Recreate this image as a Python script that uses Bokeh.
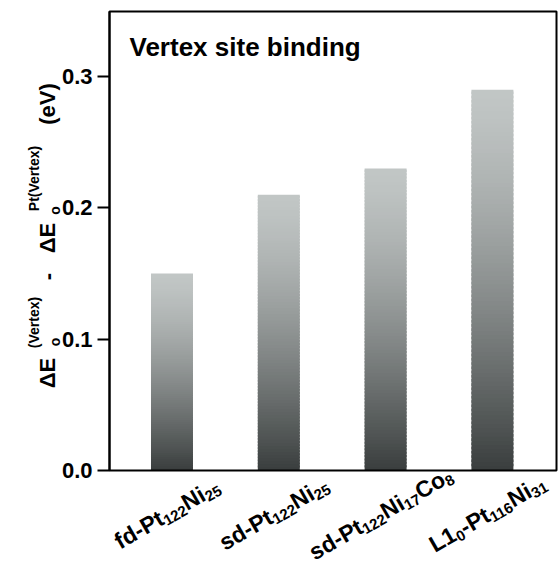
import math
import numpy as np
from bokeh.plotting import figure
from bokeh.models import (Label, Range1d, FixedTicker, NumeralTickFormatter, ColumnDataSource,
                          LinearAxis)
from bokeh.core.properties import value
from bokeh.embed import file_html
from bokeh.resources import INLINE

# ---------------- data ----------------
categories = ["fd-Pt122Ni25", "sd-Pt122Ni25", "sd-Pt122Ni17Co8", "L10-Pt116Ni31"]
# tick-label pieces: (text, 1 = subscript)
label_parts = [
    [("fd-Pt", 0), ("122", 1), ("Ni", 0), ("25", 1)],
    [("sd-Pt", 0), ("122", 1), ("Ni", 0), ("25", 1)],
    [("sd-Pt", 0), ("122", 1), ("Ni", 0), ("17", 1), ("Co", 0), ("8", 1)],
    [("L1", 0), ("0", 1), ("-Pt", 0), ("116", 1), ("Ni", 0), ("31", 1)],
]
values = [0.15, 0.21, 0.23, 0.29]
y_ticks = [0.0, 0.1, 0.2, 0.3]
title_text = "Vertex site binding"

# ---------------- layout (screen pixels of the plot box) ----------------
W, H = 559, 561
FL, FR, FT, FB = 109, 556, 11, 470
X0, X1 = 0.415, 4.6        # data extent of the plot box
Y0, Y1 = 0.0, 0.3496
FONT = "Liberation Sans"

kx = (FR - FL) / (X1 - X0)
ky = (FB - FT) / (Y1 - Y0)
XA, XB = X0 - FL / kx, X1 + (W - FR) / kx
YA, YB = Y0 - (H - FB) / ky, Y1 + FT / ky

def sx_of(x):
    return (x - XA) * kx

p = figure(width=W, height=H, output_backend="svg", toolbar_location=None,
           x_range=Range1d(0, W), y_range=Range1d(0, H),
           x_axis_location=None, y_axis_location=None, min_border=0)
p.extra_x_ranges = {"data": Range1d(XA, XB)}
p.extra_y_ranges = {"data": Range1d(YA, YB)}
p.outline_line_color = None
for g in p.grid:
    g.grid_line_color = None

# ---------------- gradient bars ----------------
xs = np.arange(1, len(categories) + 1)
bar_w = 0.393
N = 90
light = np.array([193, 198, 197])
dark = np.array([58, 62, 62])
lefts, rights, bottoms, tops, colors = [], [], [], [], []
for xc, v in zip(xs, values):
    for i in range(N):
        t = 1 - (i + 0.5) / N  # 0 at top, 1 at bottom
        c = light + (dark - light) * (t ** 1.4)
        lefts.append(xc - bar_w / 2)
        rights.append(xc + bar_w / 2)
        bottoms.append(v * i / N)
        tops.append(v * min(i + 1.6, N) / N)
        colors.append("#%02x%02x%02x" % tuple(int(round(k)) for k in c))
src = ColumnDataSource(dict(left=lefts, right=rights, bottom=bottoms, top=tops, color=colors))
p.quad(left="left", right="right", bottom="bottom", top="top", fill_color="color",
       line_color=None, source=src, x_range_name="data", y_range_name="data")

# ---------------- plot box ----------------
p.quad(left=[X0], right=[X1], bottom=[Y0], top=[Y1], fill_color=None,
       line_color="black", line_width=2, x_range_name="data", y_range_name="data")

# ---------------- y axis ----------------
ya = LinearAxis(y_range_name="data", fixed_location=FL, bounds=(Y0, Y1))
ya.ticker = FixedTicker(ticks=y_ticks)
ya.formatter = NumeralTickFormatter(format="0.0")
ya.axis_line_color = "black"
ya.axis_line_width = 2
ya.major_tick_line_color = "black"
ya.major_tick_line_width = 2
ya.major_tick_out = 12
ya.major_tick_in = 0
ya.minor_tick_line_color = None
ya.major_label_standoff = 5
ya.major_label_text_font = FONT
ya.major_label_text_font_style = "bold"
ya.major_label_text_font_size = "22px"
ya.major_label_text_color = "black"
p.add_layout(ya, "left")

# ---------------- helper for single text pieces ----------------
def put(sx, sy, txt, size, angle_deg, align="left"):
    p.text(x=[sx], y=[H - sy], text=[txt], angle=angle_deg, angle_units="deg",
           text_font=value(FONT), text_font_style="bold", text_font_size="%dpx" % size,
           text_color="black", text_align=align, text_baseline="alphabetic")

# ---------------- title ----------------
put(129, 46.5, title_text, 26, 0)

# ---------------- x tick labels (rotated, with subscripts) ----------------
AW = {'f': 333, 'd': 611, '-': 333, 'P': 667, 't': 333, 's': 556, 'N': 722, 'i': 278,
      'C': 722, 'o': 611, 'L': 611}
for ch in "0123456789":
    AW[ch] = 556
MAIN, SUB, SHIFT = 23, 15, 6
ang = math.radians(30)
u = (math.cos(ang), -math.sin(ang))
dv = (math.sin(ang), math.cos(ang))
for xc, parts in zip(xs, label_parts):
    widths = [sum(AW[ch] for ch in txt) / 1000 * (SUB if sb else MAIN) for txt, sb in parts]
    L = sum(widths)
    mx, my = sx_of(xc) - 5, 513
    px0, py0 = mx - L / 2 * u[0], my - L / 2 * u[1]
    a = 0.0
    for (txt, sb), w in zip(parts, widths):
        off = SHIFT if sb else 0
        put(px0 + a * u[0] + off * dv[0], py0 + a * u[1] + off * dv[1], txt,
            SUB if sb else MAIN, 30)
        a += w

# ---------------- y axis title (rotated, with sub/superscripts) ----------------
ylab = [
    ("\u0394E", 47, 372.5, 22),
    ("o", 54.5, 341.5, 14),
    ("(Vertex)", 33.5, 322, 14),
    ("-", 47, 276, 22),
    ("\u0394E", 47, 237.5, 22),
    ("o", 54.5, 210, 14),
    ("Pt(Vertex)", 33.5, 178, 14),
    ("(eV)", 47, 103.5, 22),
]
for txt, bx, cy, fs in ylab:
    put(bx, cy, txt, fs, 90, align="center")

open("out.html", "w").write(file_html(p, INLINE))
